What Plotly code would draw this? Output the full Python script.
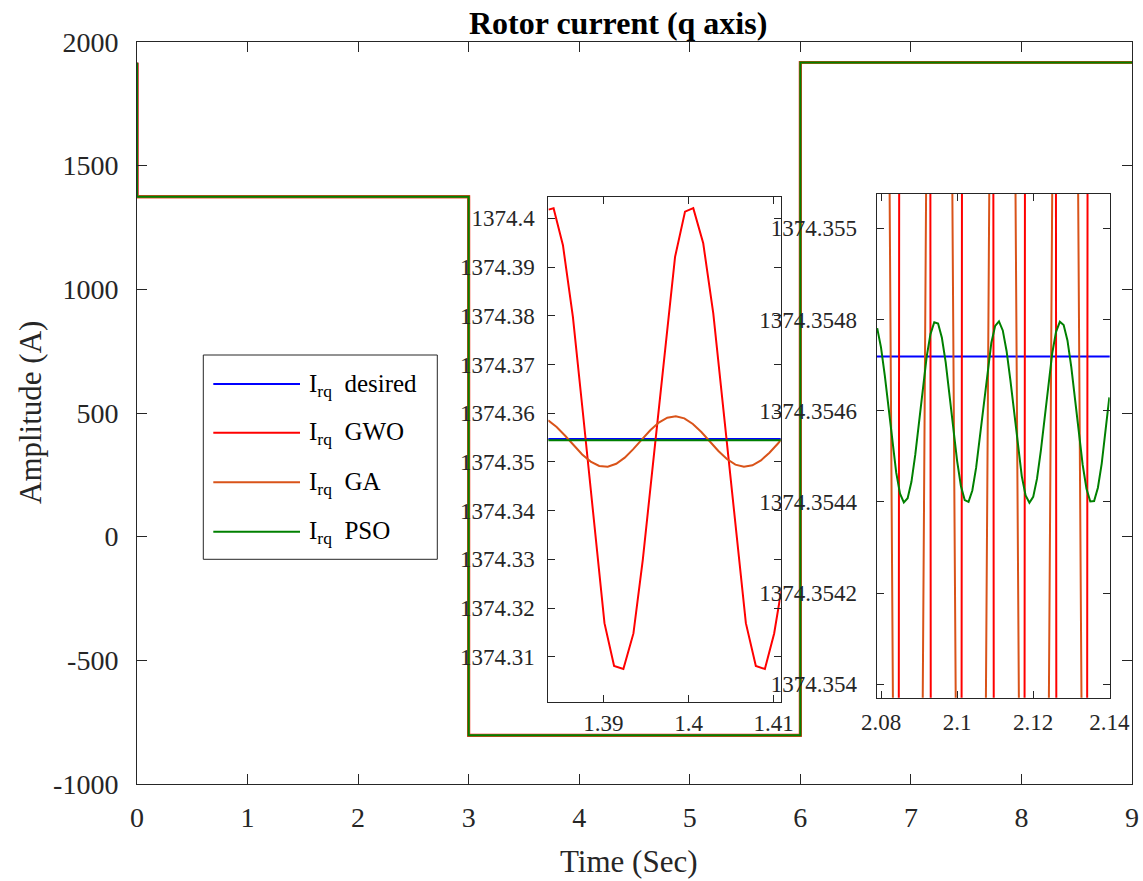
import plotly.graph_objects as go

FONT = "Liberation Serif"
AXC = "#262626"
C_DES = "#0000FF"
C_GWO = "#FF0000"
C_GA = "#D95319"
C_PSO = "#008000"

# ---------------- main axes data ----------------
main_t = [0, 0, 3, 3, 6, 6, 9]
main_desired = [1916, 1374.35, 1374.35, -803, -803, 1917, 1917]
main_gwo = [1916, 1374.35, 1374.35, -803, -803, 1917, 1917]
main_ga = [1916, 1374.35, 1374.35, -803, -803, 1917, 1917]
main_pso = [1916, 1374.35, 1374.35, -803, -803, 1917, 1917]
main_xticks = [0, 1, 2, 3, 4, 5, 6, 7, 8, 9]
main_xlabels = ["0", "1", "2", "3", "4", "5", "6", "7", "8", "9"]
main_yticks = [-1000, -500, 0, 500, 1000, 1500, 2000]
main_ylabels = ["-1000", "-500", "0", "500", "1000", "1500", "2000"]

# ---------------- inset 1 (t = 1.383 .. 1.411) ----------------
in1_des_t = [1.3835, 1.4115]
in1_des_v = [1374.35472, 1374.35472]
in1_gwo_t = [1.38355, 1.38414, 1.38524, 1.38641, 1.38759, 1.38876, 1.39012, 1.39125,
             1.39234, 1.39352, 1.39462, 1.39583, 1.39712, 1.39841, 1.39958, 1.40055,
             1.40172, 1.40290, 1.40410, 1.40540, 1.40673, 1.40790, 1.40896, 1.41005, 1.41103]
in1_gwo_v = [1374.4018, 1374.4021, 1374.3945, 1374.3798, 1374.3600, 1374.3400, 1374.3169, 1374.3081,
             1374.3075, 1374.3148, 1374.3299, 1374.3498, 1374.3710, 1374.3921, 1374.4014, 1374.4021,
             1374.3949, 1374.3805, 1374.3606, 1374.3390, 1374.3169, 1374.3081, 1374.3075, 1374.3148, 1374.3251]
in1_ga_t = [1.3835, 1.3845, 1.3855, 1.3865, 1.3875, 1.3885, 1.3895, 1.3905, 1.3915, 1.3925,
            1.3935, 1.3945, 1.3955, 1.3965, 1.3975, 1.3985, 1.3995, 1.4005, 1.4015, 1.4025,
            1.4035, 1.4045, 1.4055, 1.4065, 1.4075, 1.4085, 1.4095, 1.4105, 1.4115]
in1_ga_v = [1374.35857, 1374.35719, 1374.35539, 1374.35340, 1374.35154, 1374.35007, 1374.34919,
            1374.34904, 1374.34963, 1374.35089, 1374.35263, 1374.35460, 1374.35650, 1374.35808,
            1374.35909, 1374.35939, 1374.35895, 1374.35780, 1374.35615, 1374.35420, 1374.35225,
            1374.35060, 1374.34945, 1374.34901, 1374.34931, 1374.35032, 1374.35190, 1374.35380, 1374.35577]
in1_pso_t = [1.3835, 1.4115]
in1_pso_v = [1374.35448, 1374.35448]
in1_xticks = [1.39, 1.40, 1.41]
in1_xlabels = ["1.39", "1.4", "1.41"]
in1_yticks = [1374.31, 1374.32, 1374.33, 1374.34, 1374.35, 1374.36, 1374.37, 1374.38, 1374.39, 1374.40]
in1_ylabels = ["1374.31", "1374.32", "1374.33", "1374.34", "1374.35", "1374.36", "1374.37",
               "1374.38", "1374.39", "1374.4"]

# ---------------- inset 2 (t = 2.079 .. 2.140) ----------------
in2_des_t = [2.0785, 2.1405]
in2_des_v = [1374.354719, 1374.354719]
in2_gwo_t = [2.0806, 2.0889, 2.0971, 2.1054, 2.1137, 2.1219, 2.1301, 2.1384, 2.1466]
in2_gwo_v = [1374.3075, 1374.4021, 1374.3075, 1374.4021, 1374.3075, 1374.4021, 1374.3075, 1374.4021, 1374.3075]
in2_ga_t = [2.0789, 2.0870, 2.0953, 2.1036, 2.1119, 2.1202, 2.1284, 2.1366, 2.1448]
in2_ga_v = [1374.3594, 1374.3490, 1374.3594, 1374.3490, 1374.3594, 1374.3490, 1374.3594, 1374.3490, 1374.3594]
in2_pso_t = [2.079, 2.080, 2.081, 2.082, 2.083, 2.084, 2.085, 2.086, 2.087, 2.088,
             2.089, 2.090, 2.091, 2.092, 2.093, 2.094, 2.095, 2.096, 2.097, 2.098,
             2.099, 2.100, 2.101, 2.102, 2.103, 2.104, 2.105, 2.106, 2.107, 2.108,
             2.109, 2.110, 2.111, 2.112, 2.113, 2.114, 2.115, 2.116, 2.117, 2.118,
             2.119, 2.120, 2.121, 2.122, 2.123, 2.124, 2.125, 2.126, 2.127, 2.128,
             2.129, 2.130, 2.131, 2.132, 2.133, 2.134, 2.135, 2.136, 2.137, 2.138,
             2.139, 2.140]
in2_pso_v = [1374.354781, 1374.354739, 1374.354677, 1374.354603, 1374.354528, 1374.354464,
             1374.354418, 1374.354399, 1374.354408, 1374.354444, 1374.354503, 1374.354575,
             1374.354650, 1374.354718, 1374.354768, 1374.354794, 1374.354791, 1374.354760,
             1374.354706, 1374.354635, 1374.354560, 1374.354490, 1374.354435, 1374.354404,
             1374.354400, 1374.354425, 1374.354475, 1374.354543, 1374.354618, 1374.354690,
             1374.354749, 1374.354786, 1374.354796, 1374.354776, 1374.354731, 1374.354667,
             1374.354592, 1374.354518, 1374.354456, 1374.354414, 1374.354398, 1374.354411,
             1374.354451, 1374.354512, 1374.354585, 1374.354660, 1374.354726, 1374.354773,
             1374.354795, 1374.354788, 1374.354754, 1374.354696, 1374.354625, 1374.354549,
             1374.354481, 1374.354429, 1374.354401, 1374.354402, 1374.354431, 1374.354484,
             1374.354553, 1374.354629]
in2_xticks = [2.08, 2.10, 2.12, 2.14]
in2_xlabels = ["2.08", "2.1", "2.12", "2.14"]
in2_yticks = [1374.3540, 1374.3542, 1374.3544, 1374.3546, 1374.3548, 1374.3550]
in2_ylabels = ["1374.354", "1374.3542", "1374.3544", "1374.3546", "1374.3548", "1374.355"]

legend_names = ["desired", "GWO", "GA", "PSO"]
legend_colors = [C_DES, C_GWO, C_GA, C_PSO]

# ---------------- figure geometry ----------------
W, H = 1143, 881
ML, MR, MT, MB = 137, 11, 42, 97
PW, PH = W - ML - MR, H - MT - MB


def px_x(x):
    return (x - ML) / PW


def px_y(y):
    return (H - MB - y) / PH


fig = go.Figure()


def add(x, y, color, xa, ya, width=2.0):
    fig.add_trace(go.Scatter(x=x, y=y, mode="lines", line=dict(color=color, width=width),
                             xaxis=xa, yaxis=ya, showlegend=False, hoverinfo="skip"))


add(main_t, main_desired, C_DES, "x", "y", 2.6)
add(main_t, main_gwo, C_GWO, "x", "y", 3.0)
add(main_t, main_ga, C_GA, "x", "y", 2.8)
add(main_t, main_pso, C_PSO, "x", "y", 2.0)

add(in1_des_t, in1_des_v, C_DES, "x2", "y2")
add(in1_gwo_t, in1_gwo_v, C_GWO, "x2", "y2")
add(in1_ga_t, in1_ga_v, C_GA, "x2", "y2")
add(in1_pso_t, in1_pso_v, C_PSO, "x2", "y2")

add(in2_des_t, in2_des_v, C_DES, "x3", "y3")
add(in2_gwo_t, in2_gwo_v, C_GWO, "x3", "y3")
add(in2_ga_t, in2_ga_v, C_GA, "x3", "y3")
add(in2_pso_t, in2_pso_v, C_PSO, "x3", "y3")


def axstyle(size, ticklen, standoff, **kw):
    d = dict(showline=True, linecolor=AXC, linewidth=1, mirror="ticks", ticks="inside",
             ticklen=ticklen, tickwidth=1, tickcolor=AXC, showgrid=False, zeroline=False,
             tickfont=dict(family=FONT, size=size, color=AXC), ticklabelstandoff=standoff,
             fixedrange=True, automargin=False)
    d.update(kw)
    return d


i1x = [px_x(548.3), px_x(780.7)]
i1y = [px_y(702.1), px_y(197.0)]
i2x = [px_x(876.7), px_x(1109.7)]
i2y = [px_y(697.7), px_y(194.0)]

fig.update_layout(
    width=W, height=H, autosize=False,
    margin=dict(l=ML, r=MR, t=MT, b=MB, pad=0, autoexpand=False),
    paper_bgcolor="white", plot_bgcolor="white",
    showlegend=False,
    xaxis=axstyle(28, 10, 8, range=[0, 9], tickvals=main_xticks, ticktext=main_xlabels,
                  domain=[0, 1], anchor="y"),
    yaxis=axstyle(28, 10, 12, range=[-1000, 2000], tickvals=main_yticks, ticktext=main_ylabels,
                  domain=[0, 1], anchor="x"),
    xaxis2=axstyle(23, 7, 0, range=[1.38352, 1.41082], tickvals=in1_xticks, ticktext=in1_xlabels,
                   domain=i1x, anchor="y2"),
    yaxis2=axstyle(23, 7, 8, range=[1374.3007, 1374.4044], tickvals=in1_yticks, ticktext=in1_ylabels,
                   domain=i1y, anchor="x2"),
    xaxis3=axstyle(23, 7, 4, range=[2.07887, 2.1401], tickvals=in2_xticks, ticktext=in2_xlabels,
                   domain=i2x, anchor="y3"),
    yaxis3=axstyle(23, 7, 14, range=[1374.3539706, 1374.3550752], tickvals=in2_yticks,
                   ticktext=in2_ylabels, domain=i2y, anchor="x3"),
)

annotations = [
    dict(text="Rotor current (q axis)", x=px_x(618), y=px_y(23), xref="paper", yref="paper",
         xanchor="center", yanchor="middle", showarrow=False,
         font=dict(family=FONT, size=32, color="black", weight="bold")),
    dict(text="Time (Sec)", x=px_x(629), y=px_y(861), xref="paper", yref="paper",
         xanchor="center", yanchor="middle", showarrow=False,
         font=dict(family=FONT, size=31, color=AXC)),
    dict(text="Amplitude (A)", x=px_x(30), y=px_y(413), xref="paper", yref="paper",
         xanchor="center", yanchor="middle", showarrow=False, textangle=-90,
         font=dict(family=FONT, size=31, color=AXC)),
]

shapes = [
    dict(type="rect", xref="paper", yref="paper", x0=px_x(203.3), x1=px_x(437.3),
         y0=px_y(559.3), y1=px_y(355), line=dict(color=AXC, width=1), fillcolor="white",
         layer="above"),
]
leg_y = [384, 432.7, 482.3, 531.7]
for name, col, yy in zip(legend_names, legend_colors, leg_y):
    shapes.append(dict(type="line", xref="paper", yref="paper", x0=px_x(213.3), x1=px_x(300),
                       y0=px_y(yy), y1=px_y(yy), line=dict(color=col, width=2), layer="above"))
    annotations.append(dict(text="I<sub>rq</sub>  " + name, x=px_x(306.7), y=px_y(yy),
                            xref="paper", yref="paper", xanchor="left", yanchor="middle",
                            yshift=-1, showarrow=False,
                            font=dict(family=FONT, size=25, color="black")))

fig.update_layout(annotations=annotations, shapes=shapes)

fig.write_html("out.html")
